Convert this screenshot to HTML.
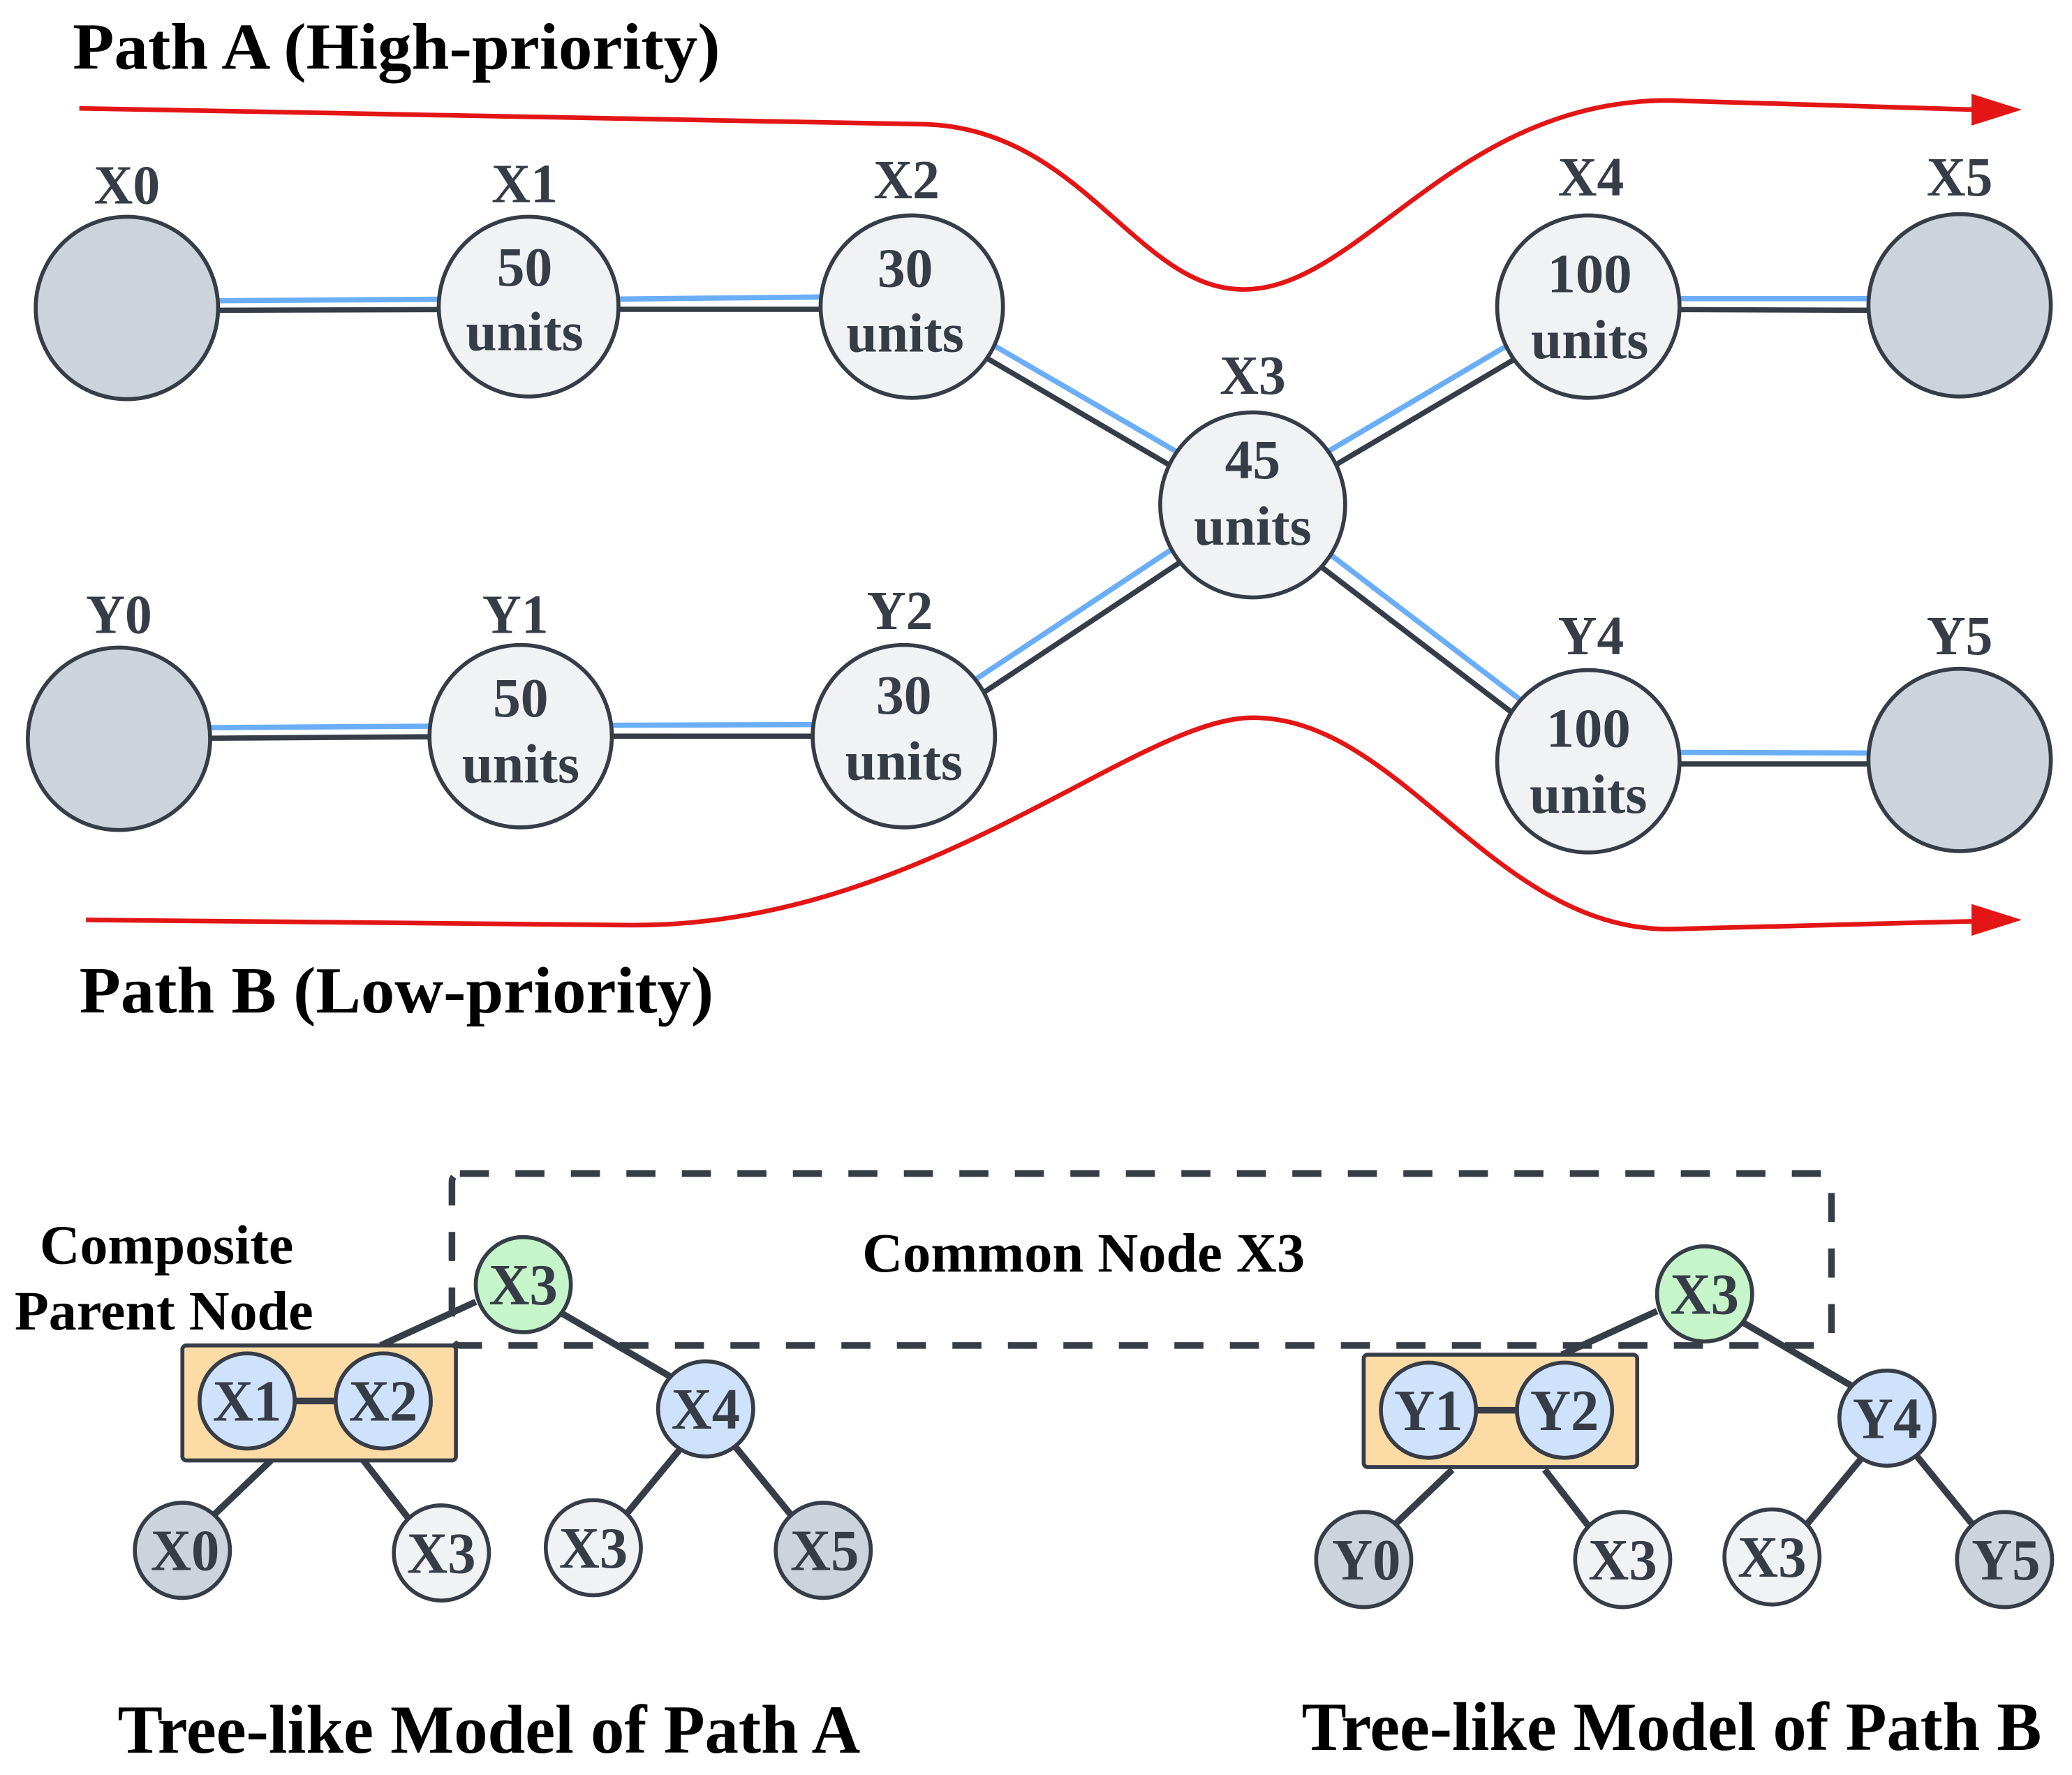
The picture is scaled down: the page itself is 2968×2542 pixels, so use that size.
<!DOCTYPE html>
<html><head><meta charset="utf-8"><style>
html,body{margin:0;padding:0;background:#fff;}
svg{display:block;}
text{font-family:"Liberation Serif",serif;font-weight:bold;}
</style></head><body>
<svg width="2968" height="2542" viewBox="0 0 1568 1343" xmlns="http://www.w3.org/2000/svg">
<text x="55" y="52" font-size="50" fill="#000" textLength="490" lengthAdjust="spacingAndGlyphs">Path A (High-priority)</text>
<text x="60" y="766" font-size="50" fill="#000" textLength="480" lengthAdjust="spacingAndGlyphs">Path B (Low-priority)</text>

<path d="M60,82 L700,94 C820,98 860,219 941,219 C1030,219 1100,76 1263,76 L1495,83" fill="none" stroke="#e31515" stroke-width="3.5"/>
<polygon points="1530,83 1492,71 1492,95" fill="#e31515"/>
<path d="M65,696 L480,700 C700,700 860,543 948,543 C1060,543 1130,703 1263,703 L1495,697" fill="none" stroke="#e31515" stroke-width="3.5"/>
<polygon points="1530,696 1492,684 1492,708" fill="#e31515"/>

<g stroke-width="4" fill="none">
<g stroke="#6aaef8">
<line x1="96" y1="228" x2="400" y2="226"/>
<line x1="400" y1="227" x2="690" y2="224"/>
<line x1="693" y1="227" x2="951" y2="377"/>
<line x1="945" y1="377" x2="1199" y2="227"/>
<line x1="1202" y1="226" x2="1483" y2="226"/>
<line x1="90" y1="551" x2="394" y2="549"/>
<line x1="394" y1="549" x2="684" y2="548"/>
<line x1="681" y1="552" x2="945" y2="377"/>
<line x1="951" y1="377" x2="1205" y2="571"/>
<line x1="1202" y1="569" x2="1483" y2="570"/>
</g>
<g stroke="#373d47">
<line x1="96" y1="235" x2="400" y2="234"/>
<line x1="400" y1="234" x2="690" y2="234"/>
<line x1="687" y1="236" x2="945" y2="387"/>
<line x1="951" y1="387" x2="1205" y2="237"/>
<line x1="1202" y1="234" x2="1483" y2="235"/>
<line x1="90" y1="559" x2="394" y2="557"/>
<line x1="394" y1="557" x2="684" y2="557"/>
<line x1="687" y1="562" x2="951" y2="387"/>
<line x1="945" y1="387" x2="1199" y2="581"/>
<line x1="1202" y1="578" x2="1483" y2="578"/>
</g>
</g>

<g stroke="#373d47" stroke-width="3">
<circle cx="96" cy="233" r="69" fill="#cdd3db"/>
<circle cx="400" cy="232" r="68" fill="#f1f2f4"/>
<circle cx="690" cy="232" r="69" fill="#f1f2f4"/>
<circle cx="948" cy="382" r="70" fill="#f1f2f4"/>
<circle cx="1202" cy="232" r="69" fill="#f1f2f4"/>
<circle cx="1483" cy="231" r="69" fill="#cdd3db"/>
<circle cx="90" cy="559" r="69" fill="#cdd3db"/>
<circle cx="394" cy="557" r="69" fill="#f1f2f4"/>
<circle cx="684" cy="557" r="69" fill="#f1f2f4"/>
<circle cx="1202" cy="576" r="69" fill="#f1f2f4"/>
<circle cx="1483" cy="575" r="69" fill="#cdd3db"/>
</g>
<g fill="#373d47" font-size="42" text-anchor="middle">
<text x="96" y="154" textLength="50" lengthAdjust="spacingAndGlyphs">X0</text>
<text x="397" y="153" textLength="50" lengthAdjust="spacingAndGlyphs">X1</text>
<text x="686" y="150" textLength="50" lengthAdjust="spacingAndGlyphs">X2</text>
<text x="948" y="298" textLength="50" lengthAdjust="spacingAndGlyphs">X3</text>
<text x="1204" y="148" textLength="50" lengthAdjust="spacingAndGlyphs">X4</text>
<text x="1483" y="148" textLength="50" lengthAdjust="spacingAndGlyphs">X5</text>
<text x="90" y="479" textLength="50" lengthAdjust="spacingAndGlyphs">Y0</text>
<text x="390" y="479" textLength="50" lengthAdjust="spacingAndGlyphs">Y1</text>
<text x="681" y="476" textLength="50" lengthAdjust="spacingAndGlyphs">Y2</text>
<text x="1204" y="495" textLength="50" lengthAdjust="spacingAndGlyphs">Y4</text>
<text x="1483" y="495" textLength="50" lengthAdjust="spacingAndGlyphs">Y5</text>
</g>
<g fill="#373d47" font-size="42" text-anchor="middle">
<text x="397" y="216">50</text><text x="397" y="265" textLength="89" lengthAdjust="spacingAndGlyphs">units</text>
<text x="685" y="217">30</text><text x="685" y="266" textLength="89" lengthAdjust="spacingAndGlyphs">units</text>
<text x="948" y="362">45</text><text x="948" y="412" textLength="89" lengthAdjust="spacingAndGlyphs">units</text>
<text x="1203" y="221" textLength="64" lengthAdjust="spacingAndGlyphs">100</text><text x="1203" y="271" textLength="89" lengthAdjust="spacingAndGlyphs">units</text>
<text x="394" y="542">50</text><text x="394" y="592" textLength="89" lengthAdjust="spacingAndGlyphs">units</text>
<text x="684" y="540">30</text><text x="684" y="590" textLength="89" lengthAdjust="spacingAndGlyphs">units</text>
<text x="1202" y="565" textLength="64" lengthAdjust="spacingAndGlyphs">100</text><text x="1202" y="615" textLength="89" lengthAdjust="spacingAndGlyphs">units</text>
</g>

<rect x="342" y="888" width="1044" height="130" rx="6" fill="none" stroke="#373d47" stroke-width="5" stroke-dasharray="22,20"/>
<text x="820" y="962" font-size="42" fill="#000" text-anchor="middle" textLength="335" lengthAdjust="spacingAndGlyphs">Common Node X3</text>
<text x="126" y="956" font-size="42" fill="#000" text-anchor="middle" textLength="192" lengthAdjust="spacingAndGlyphs">Composite</text>
<text x="124" y="1006" font-size="42" fill="#000" text-anchor="middle" textLength="226" lengthAdjust="spacingAndGlyphs">Parent Node</text>

<g>
<g stroke="#373d47" stroke-width="5">
<line x1="360" y1="985" x2="288" y2="1018"/>
<line x1="424" y1="993" x2="508" y2="1042"/>
<line x1="205" y1="1105" x2="160" y2="1148"/>
<line x1="275" y1="1105" x2="310" y2="1150"/>
<line x1="515" y1="1096" x2="472" y2="1148"/>
<line x1="556" y1="1094" x2="600" y2="1148"/>
</g>
<rect x="138" y="1018" width="207" height="87" rx="3" fill="#fcdba5" stroke="#373d47" stroke-width="3"/>
<line x1="220" y1="1060" x2="258" y2="1060" stroke="#373d47" stroke-width="5"/>
<g stroke="#373d47" stroke-width="3">
<circle cx="396" cy="972" r="36" fill="#c6f5c9"/>
<circle cx="187" cy="1060" r="36" fill="#cfe2fc"/>
<circle cx="290" cy="1060" r="36" fill="#cfe2fc"/>
<circle cx="534" cy="1066" r="36" fill="#cfe2fc"/>
<circle cx="138" cy="1173" r="36" fill="#cdd3db"/>
<circle cx="334" cy="1175" r="36" fill="#f1f2f4"/>
<circle cx="449" cy="1171" r="36" fill="#f1f2f4"/>
<circle cx="623" cy="1173" r="36" fill="#cdd3db"/>
</g>
<g fill="#373d47" font-size="44" text-anchor="middle">
<text x="396" y="987" textLength="52" lengthAdjust="spacingAndGlyphs">X3</text>
<text x="187" y="1075" textLength="52" lengthAdjust="spacingAndGlyphs">X1</text>
<text x="290" y="1075" textLength="52" lengthAdjust="spacingAndGlyphs">X2</text>
<text x="534" y="1081" textLength="52" lengthAdjust="spacingAndGlyphs">X4</text>
<text x="140" y="1188" textLength="52" lengthAdjust="spacingAndGlyphs">X0</text>
<text x="334" y="1190" textLength="52" lengthAdjust="spacingAndGlyphs">X3</text>
<text x="449" y="1186" textLength="52" lengthAdjust="spacingAndGlyphs">X3</text>
<text x="624" y="1188" textLength="52" lengthAdjust="spacingAndGlyphs">X5</text>
</g>
</g>

<g transform="translate(894,7)">
<g stroke="#373d47" stroke-width="5">
<line x1="360" y1="985" x2="288" y2="1018"/>
<line x1="424" y1="993" x2="508" y2="1042"/>
<line x1="205" y1="1105" x2="160" y2="1148"/>
<line x1="275" y1="1105" x2="310" y2="1150"/>
<line x1="515" y1="1096" x2="472" y2="1148"/>
<line x1="556" y1="1094" x2="600" y2="1148"/>
</g>
<rect x="138" y="1018" width="207" height="85" rx="3" fill="#fcdba5" stroke="#373d47" stroke-width="3"/>
<line x1="220" y1="1060" x2="258" y2="1060" stroke="#373d47" stroke-width="5"/>
<g stroke="#373d47" stroke-width="3">
<circle cx="396" cy="972" r="36" fill="#c6f5c9"/>
<circle cx="187" cy="1060" r="36" fill="#cfe2fc"/>
<circle cx="290" cy="1060" r="36" fill="#cfe2fc"/>
<circle cx="534" cy="1066" r="36" fill="#cfe2fc"/>
<circle cx="138" cy="1173" r="36" fill="#cdd3db"/>
<circle cx="334" cy="1173" r="36" fill="#f1f2f4"/>
<circle cx="447" cy="1171" r="36" fill="#f1f2f4"/>
<circle cx="623" cy="1173" r="36" fill="#cdd3db"/>
</g>
<g fill="#373d47" font-size="44" text-anchor="middle">
<text x="396" y="987" textLength="52" lengthAdjust="spacingAndGlyphs">X3</text>
<text x="187" y="1075" textLength="52" lengthAdjust="spacingAndGlyphs">Y1</text>
<text x="290" y="1075" textLength="52" lengthAdjust="spacingAndGlyphs">Y2</text>
<text x="534" y="1081" textLength="52" lengthAdjust="spacingAndGlyphs">Y4</text>
<text x="140" y="1188" textLength="52" lengthAdjust="spacingAndGlyphs">Y0</text>
<text x="334" y="1188" textLength="52" lengthAdjust="spacingAndGlyphs">X3</text>
<text x="447" y="1186" textLength="52" lengthAdjust="spacingAndGlyphs">X3</text>
<text x="624" y="1188" textLength="52" lengthAdjust="spacingAndGlyphs">Y5</text>
</g>
</g>

<text x="370" y="1326" font-size="52" fill="#000" text-anchor="middle" textLength="562" lengthAdjust="spacingAndGlyphs">Tree-like Model of Path A</text>
<text x="1265" y="1324" font-size="52" fill="#000" text-anchor="middle" textLength="560" lengthAdjust="spacingAndGlyphs">Tree-like Model of Path B</text>
</svg>
</body></html>
